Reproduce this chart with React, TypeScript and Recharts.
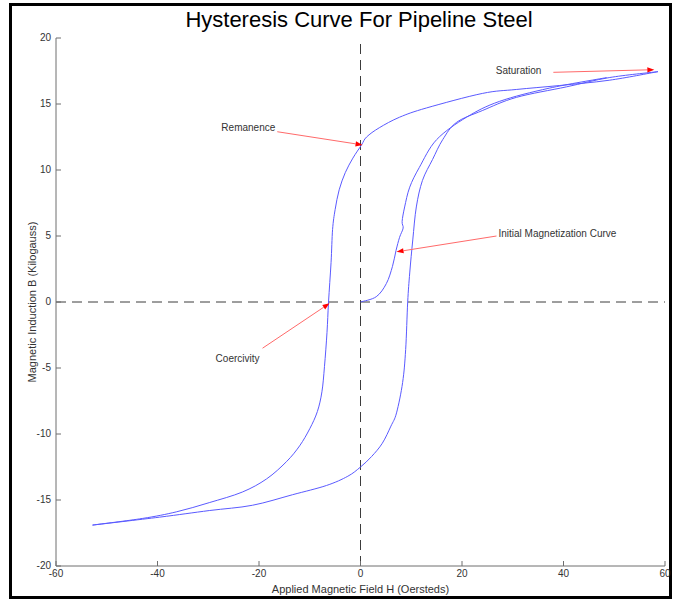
import { LineChart, Line, XAxis, YAxis, ReferenceLine } from "recharts";

// Axis ticks
const X_TICKS = [-60, -40, -20, 0, 20, 40, 60];
const Y_TICKS = [-20, -15, -10, -5, 0, 5, 10, 15, 20];

// Upper branch: field decreasing from positive saturation
const downH = [58.6, 49, 39.2, 30.7, 24, 13, 7.7, 3.7, 1.2, 0.2, -1.5, -3.0, -4.2, -5.0, -5.5, -5.8, -6.3, -6.6, -7.1, -7.6, -8.5, -10.0, -12.0, -14.6, -18.5, -23.3, -29.8, -36.3, -43, -52.8];
const downB = [17.45, 16.8, 16.4, 16.1, 15.8, 14.7, 14.0, 13.2, 12.5, 11.9, 10.9, 9.8, 8.5, 7.0, 5.5, 3.0, 0, -2.3, -4.9, -6.8, -8.3, -9.6, -10.9, -12.1, -13.4, -14.4, -15.2, -15.9, -16.4, -16.9];

// Lower branch: field increasing back to saturation
const upH = [-52.8, -39.6, -29.8, -21.3, -13.4, -6.7, -2.5, 0, 2.2, 4.3, 6.0, 7.1, 8.3, 8.9, 9.3, 9.7, 10.3, 11.0, 12.2, 14.2, 16.2, 18.9, 24.0, 30.7, 40.6, 49, 58.6];
const upB = [-16.9, -16.3, -15.8, -15.4, -14.6, -13.9, -13.2, -12.5, -11.7, -10.7, -9.4, -8.4, -6.1, -3.6, 0, 2.2, 4.7, 7.2, 9.2, 10.8, 12.3, 13.6, 14.5, 15.5, 16.3, 17.0, 17.45];

// Initial magnetization from the demagnetized state
const initH = [0, 3.1, 5.1, 6.3, 7.0, 7.7, 8.4, 8.2, 8.7, 9.7, 11.6, 15.0, 20.9, 27.4, 37.2, 48.5];
const initB = [0, 0.4, 1.4, 2.7, 3.9, 4.9, 5.6, 6.1, 7.2, 8.7, 10.2, 12.3, 14.0, 15.2, 16.2, 17.0];

// Annotations: label, arrow tail (H, B), arrow head (H, B)
const NOTE_LABELS = ["Saturation", "Remanence", "Coercivity", "Initial Magnetization Curve"];
const NOTE_FROM = [[38.0, 17.4], [-16.4, 12.9], [-19.3, -3.5], [26.8, 5.0]];
const NOTE_TO = [[57.9, 17.6], [0.4, 11.9], [-6.1, -0.1], [7.1, 3.8]];

const NOTE_TEXT_POS = [
  { anchor: "end", dx: -12, dy: -2 },
  { anchor: "end", dx: -2, dy: -4 },
  { anchor: "middle", dx: -25, dy: 10 },
  { anchor: "start", dx: 2, dy: -3 },
];

const toPoints = (h: number[], b: number[]) => h.map((v, i) => ({ h: v, b: b[i] }));

const AXIS = "#6e6e6e";
const TEXT = "#333";
const CURVE = "#5a5aff";
const FONT = "'Liberation Sans', Arial, sans-serif";
const NARROW = "'Liberation Sans Narrow', 'Liberation Sans', Arial, sans-serif";

// Catmull-Rom spline through the sampled points (works for curves that double back)
const catmullRom = (context: any) => {
  let pts: number[][] = [];
  return {
    areaStart() {},
    areaEnd() {},
    lineStart() {
      pts = [];
    },
    point(x: number, y: number) {
      pts.push([+x, +y]);
    },
    lineEnd() {
      if (!pts.length) return;
      context.moveTo(pts[0][0], pts[0][1]);
      for (let i = 0; i < pts.length - 1; i++) {
        const p0 = pts[Math.max(i - 1, 0)];
        const p1 = pts[i];
        const p2 = pts[i + 1];
        const p3 = pts[Math.min(i + 2, pts.length - 1)];
        context.bezierCurveTo(
          p1[0] + (p2[0] - p0[0]) / 6,
          p1[1] + (p2[1] - p0[1]) / 6,
          p2[0] - (p3[0] - p1[0]) / 6,
          p2[1] - (p3[1] - p1[1]) / 6,
          p2[0],
          p2[1]
        );
      }
    },
  };
};

// MATLAB-style inward ticks
const XTick = ({ x, y, payload }: any) => (
  <g>
    <line x1={x} x2={x} y1={y} y2={y - 5} stroke={AXIS} />
    <text x={x} y={y + 11} textAnchor="middle" fontSize={10} fontFamily={NARROW} fill={TEXT}>
      {payload.value}
    </text>
  </g>
);

const YTick = ({ x, y, payload }: any) => (
  <g>
    <line x1={x} x2={x + 5} y1={y} y2={y} stroke={AXIS} />
    <text x={x - 5} y={y + 3} textAnchor="end" fontSize={10} fontFamily={NARROW} fill={TEXT}>
      {payload.value}
    </text>
  </g>
);

const renderXLabel = ({ viewBox }: any) => (
  <text x={viewBox.x + viewBox.width / 2} y={viewBox.y + 27} textAnchor="middle" fontSize={11} fontFamily={FONT} fill={TEXT}>
    Applied Magnetic Field H (Oersteds)
  </text>
);

const renderYLabel = ({ viewBox }: any) => {
  const cx = viewBox.x + viewBox.width - 24;
  const cy = viewBox.y + viewBox.height / 2;
  return (
    <text x={cx} y={cy} transform={`rotate(-90 ${cx} ${cy})`} textAnchor="middle" dominantBaseline="central" fontSize={11} fontFamily={FONT} fill={TEXT}>
      Magnetic Induction B (Kilogauss)
    </text>
  );
};

// Red arrow with its caption at the tail
const arrowShape = (i: number) => (props: any) => {
  const { x1, y1, x2, y2 } = props;
  const ang = Math.atan2(y2 - y1, x2 - x1);
  const len = 7;
  const w = 2.6;
  const bx = x2 - len * Math.cos(ang);
  const by = y2 - len * Math.sin(ang);
  const px = -Math.sin(ang) * w;
  const py = Math.cos(ang) * w;
  const pos = NOTE_TEXT_POS[i];
  return (
    <g>
      <line x1={x1} y1={y1} x2={bx} y2={by} stroke="#ff6a6a" strokeWidth={1} />
      <polygon points={`${x2},${y2} ${bx + px},${by + py} ${bx - px},${by - py}`} fill="#f00" />
      <text x={x1 + pos.dx} y={y1 + pos.dy} textAnchor={pos.anchor} dominantBaseline="central" fontSize={10} fontFamily={FONT} fill={TEXT}>
        {NOTE_LABELS[i]}
      </text>
    </g>
  );
};

export default function App() {
  return (
    <div style={{ position: "absolute", left: 0, top: 0, width: 674, height: 602, background: "#fff" }}>
      <div
        style={{
          position: "absolute",
          left: 9,
          top: 3,
          width: 663,
          height: 596,
          border: "3px solid #000",
          boxSizing: "border-box",
        }}
      />
      <div
        style={{
          position: "absolute",
          left: 0,
          top: 7,
          width: 718,
          textAlign: "center",
          fontFamily: FONT,
          fontSize: 22,
          color: "#000",
        }}
      >
        Hysteresis Curve For Pipeline Steel
      </div>
      <div style={{ position: "absolute", left: 0, top: 0 }}>
        <LineChart width={674} height={602} margin={{ top: 38, right: 9, bottom: 6, left: 16 }}>
          <XAxis
            type="number"
            dataKey="h"
            domain={[-60, 60]}
            ticks={X_TICKS}
            height={30}
            tickSize={0}
            tickMargin={0}
            tickLine={false}
            axisLine={{ stroke: AXIS }}
            tick={<XTick />}
            label={renderXLabel}
            allowDataOverflow
          />
          <YAxis
            type="number"
            dataKey="b"
            domain={[-20, 20]}
            ticks={Y_TICKS}
            width={40}
            tickSize={0}
            tickMargin={0}
            tickLine={false}
            axisLine={{ stroke: AXIS }}
            tick={<YTick />}
            label={renderYLabel}
            allowDataOverflow
          />
          <ReferenceLine x={0} stroke="#3c3c3c" strokeDasharray="10 6" />
          <ReferenceLine y={0} stroke="#3c3c3c" strokeDasharray="10 6" />
          <Line data={toPoints(downH, downB)} dataKey="b" type={catmullRom as any} stroke={CURVE} strokeWidth={1} dot={false} isAnimationActive={false} />
          <Line data={toPoints(upH, upB)} dataKey="b" type={catmullRom as any} stroke={CURVE} strokeWidth={1} dot={false} isAnimationActive={false} />
          <Line data={toPoints(initH, initB)} dataKey="b" type={catmullRom as any} stroke={CURVE} strokeWidth={1} dot={false} isAnimationActive={false} />
          {NOTE_LABELS.map((_, i) => (
            <ReferenceLine
              key={i}
              segment={[
                { x: NOTE_FROM[i][0], y: NOTE_FROM[i][1] },
                { x: NOTE_TO[i][0], y: NOTE_TO[i][1] },
              ]}
              shape={arrowShape(i)}
            />
          ))}
        </LineChart>
      </div>
    </div>
  );
}
